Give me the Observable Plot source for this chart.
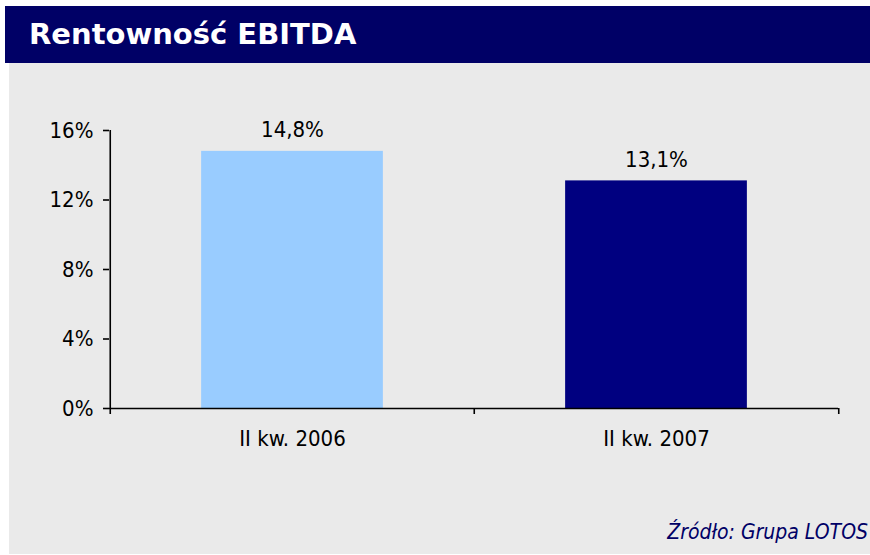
<!DOCTYPE html>
<html>
<head>
<meta charset="utf-8">
<script src="https://cdn.jsdelivr.net/npm/d3@7"></script>
<script src="https://cdn.jsdelivr.net/npm/@observablehq/plot@0.6"></script>
<style>
  html, body { margin: 0; padding: 0; background: #ffffff; }
  #wrap { position: relative; width: 870px; height: 555px; overflow: hidden; }
  #title { position: absolute; left: 5px; top: 6px; width: 865px; height: 57px; background: #000066;
    color: #fff; font-family: "DejaVu Sans", sans-serif; font-weight: bold;
    font-size: 29px; line-height: 57px; padding-left: 24px; box-sizing: border-box; }
  #panel { position: absolute; left: 9px; top: 63px; width: 861px; height: 491px; background: #eaeaea; }
  #chart { position: absolute; left: 0; top: 0; }
  #source { position: absolute; right: 2px; top: 520px; font-family: "DejaVu Sans Condensed", "DejaVu Sans", sans-serif;
    font-style: italic; font-size: 21px; color: #000066; }
</style>
</head>
<body>
<div id="wrap">
  <div id="title">Rentowność EBITDA</div>
  <div id="panel"><div id="chart"></div></div>
  <div id="source">Źródło: Grupa LOTOS</div>
</div>
<script>
const categories = ["II kw. 2006", "II kw. 2007"];
const values = [14.8, 13.1];
const colors = ["#99ccff", "#000080"];
const yTicks = [0, 4, 8, 12, 16];

const data = categories.map((c, i) => ({category: c, value: values[i], color: colors[i]}));

const W = 861, H = 491;
const mL = 100, mR = 32, mT = 67, mB = 146;
const bw = (W - mL - mR) / categories.length;
const font = "'DejaVu Sans Condensed', 'DejaVu Sans', sans-serif";
const fmt = v => v.toFixed(1).replace(".", ",") + "%";

const chart = Plot.plot({
  width: W, height: H,
  marginLeft: mL, marginRight: mR, marginTop: mT, marginBottom: mB,
  style: {background: "transparent", fontFamily: font, fontSize: "22px", color: "#000"},
  x: {domain: categories, padding: 0, label: null},
  y: {domain: [0, 16], label: null},
  marks: [
    Plot.barY(data, {x: "category", y: "value", fill: "color", insetLeft: bw * 0.25, insetRight: bw * 0.25}),
    Plot.text(data, {x: "category", y: "value", text: d => fmt(d.value), dy: -21, fontSize: 22, fill: "#000"}),
    Plot.ruleY([0], {stroke: "#000", strokeWidth: 1.6}),
    Plot.ruleX([categories[0]], {dx: -bw / 2, stroke: "#000", strokeWidth: 1.6}),
    Plot.axisY({ticks: yTicks, tickSize: 6, tickPadding: 10, tickFormat: d => d + "%", fontSize: 22, stroke: "#000", strokeWidth: 1.6, label: null}),
    Plot.axisX({tickSize: 0, tickPadding: 22, fontSize: 22, label: null}),
    Plot.axisX({ticks: categories, tickSize: 6, text: null, dx: -bw / 2, stroke: "#000", strokeWidth: 1.6, label: null}),
    Plot.axisX({ticks: [categories[categories.length - 1]], tickSize: 6, text: null, dx: bw / 2, stroke: "#000", strokeWidth: 1.6, label: null})
  ]
});
document.getElementById("chart").appendChild(chart);
</script>
</body>
</html>
